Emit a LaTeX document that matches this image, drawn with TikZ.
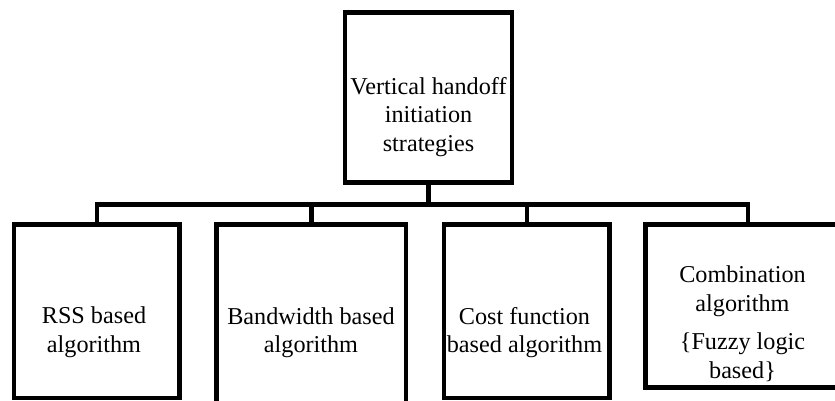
\documentclass[tikz,border=0pt]{standalone}
\usepackage{fontspec}
\setmainfont{Liberation Serif}
\begin{document}
\begin{tikzpicture}[x=1pt,y=-1pt,
  box/.style={draw, line width=4.5pt, inner sep=0pt},
  conn/.style={draw, line width=4.5pt},
  lbl/.style={align=center, inner sep=0pt, font=\fontsize{24.2}{28.5}\selectfont}]
\useasboundingbox (0,0) rectangle (835,401);
\clip (0,0) rectangle (835,401);
% boxes
\node[box, minimum width=167pt, minimum height=170pt] (top) at (428.5,97.5) {};
\node[box, minimum width=165.5pt, minimum height=173.5pt] (b1) at (96.75,311.25) {};
\node[box, minimum width=189.5pt, minimum height=185.5pt] (b2) at (311.25,317.25) {};
\node[box, minimum width=165.5pt, minimum height=173.5pt] (b3) at (526.75,311.25) {};
\node[box, minimum width=204.5pt, minimum height=163pt] (b4) at (747.75,306) {};
% connectors
\coordinate (bus) at (428.5,204.5);
\draw[conn] (top.south) -- (bus);
\draw[conn] (b1.north) |- (bus) -| (b4.north);
\draw[conn] (b2.north) -- (b2.north |- bus);
\draw[conn] (b3.north) -- (b3.north |- bus);
% labels
\node[lbl] (t0) at (428.5,117) {Vertical handoff\\initiation\\strategies};
\node[lbl] (t1) at (94,332) {RSS based\\algorithm};
\node[lbl] (t2) at (311,332.5) {Bandwidth based\\algorithm};
\node[lbl] (t3) at (524.5,332.5) {Cost function\\based algorithm};
\node[lbl] (t4) at (742.5,323.5) {Combination\\algorithm\\[10pt]\{Fuzzy logic\\based\}};
\end{tikzpicture}
\end{document}
